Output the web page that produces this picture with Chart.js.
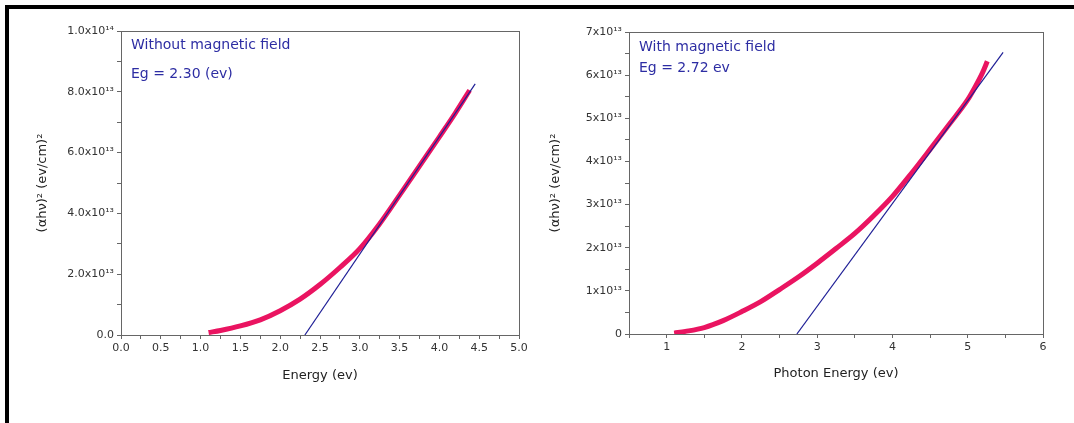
<!DOCTYPE html>
<html>
<head>
<meta charset="utf-8">
<script src="https://cdn.jsdelivr.net/npm/chart.js@4.4.1/dist/chart.umd.min.js"></script>
<style>
  html, body { margin: 0; padding: 0; background: #fff; }
  #page { position: relative; width: 1074px; height: 423px; overflow: hidden; }
  #frame { position: absolute; left: 5px; top: 5px; right: -10px; bottom: -10px; border-top: 4px solid #000; border-left: 4px solid #000; }
  #leftBox { position: absolute; left: 9px; top: 8px; width: 531px; height: 415px; }
  #rightBox { position: absolute; left: 540px; top: 8px; width: 534px; height: 415px; }
</style>
</head>
<body>
<div id="page">
  <div id="frame"></div>
  <div id="leftBox"><canvas id="leftChart"></canvas></div>
  <div id="rightBox"><canvas id="rightChart"></canvas></div>
</div>
<script>
// values of (ahv)^2 are given in units of 1e13
const leftEnergy = [1.1, 1.25, 1.5, 1.75, 2.0, 2.25, 2.5, 2.75, 3.0, 3.25, 3.5, 3.75, 4.0, 4.2, 4.38];
const leftAbs = [0.08, 0.15, 0.3, 0.5, 0.8, 1.18, 1.66, 2.22, 2.84, 3.66, 4.6, 5.56, 6.52, 7.3, 8.05];
const leftFitEnergy = [2.31, 4.45];
const leftFitAbs = [0, 8.26];

const rightEnergy = [1.1, 1.25, 1.5, 1.75, 2.0, 2.25, 2.5, 2.75, 3.0, 3.25, 3.5, 3.75, 4.0, 4.25, 4.5, 4.75, 5.0, 5.1, 5.2, 5.26];
const rightAbs = [0.02, 0.06, 0.15, 0.31, 0.52, 0.75, 1.03, 1.32, 1.64, 1.98, 2.33, 2.74, 3.19, 3.72, 4.28, 4.85, 5.43, 5.73, 6.07, 6.32];
const rightFitEnergy = [2.73, 5.47];
const rightFitAbs = [0, 6.53];

const leftXTicks = [0, 0.5, 1, 1.5, 2, 2.5, 3, 3.5, 4, 4.5, 5];
const leftXTickLabels = ['0.0', '0.5', '1.0', '1.5', '2.0', '2.5', '3.0', '3.5', '4.0', '4.5', '5.0'];
const leftYTicks = [0, 2, 4, 6, 8, 10];
const leftYTickLabels = ['0.0', '2.0x10¹³', '4.0x10¹³', '6.0x10¹³', '8.0x10¹³', '1.0x10¹⁴'];

const rightXTicks = [1, 2, 3, 4, 5, 6];
const rightXTickLabels = ['1', '2', '3', '4', '5', '6'];
const rightYTicks = [0, 1, 2, 3, 4, 5, 6, 7];
const rightYTickLabels = ['0', '1x10¹³', '2x10¹³', '3x10¹³', '4x10¹³', '5x10¹³', '6x10¹³', '7x10¹³'];

const curveColor = '#ea1461';
const fitColor = '#1f1f96';
const noteColor = '#2d2da3';
const axisColor = '#666';
const fontFamily = '"DejaVu Sans", Arial, sans-serif';

function labelFor(ticks, labels) {
  return function(value) {
    const i = ticks.findIndex(t => Math.abs(t - value) < 1e-9);
    return i >= 0 ? labels[i] : '';
  };
}

function toPoints(xs, ys) {
  return xs.map((x, i) => ({ x: x, y: ys[i] }));
}

// frame around the plot area plus the two text notes
const frameAndNotes = {
  id: 'frameAndNotes',
  afterDraw(chart, args, opts) {
    const { ctx, chartArea } = chart;
    ctx.save();
    ctx.strokeStyle = axisColor;
    ctx.lineWidth = 1;
    ctx.strokeRect(chartArea.left + 0.5, chartArea.top + 0.5, chartArea.width, chartArea.height);
    ctx.fillStyle = noteColor;
    ctx.font = `14px ${fontFamily}`;
    ctx.textBaseline = 'middle';
    opts.lines.forEach((line, i) => {
      ctx.fillText(line, chartArea.left + opts.dx, chartArea.top + opts.dy + i * opts.gap);
    });
    ctx.restore();
  }
};

function makeChart(id, cfg) {
  const ctx = document.getElementById(id);
  return new Chart(ctx, {
    type: 'scatter',
    data: {
      datasets: [
        {
          label: 'data',
          data: toPoints(cfg.energy, cfg.abs),
          showLine: true,
          borderColor: curveColor,
          borderWidth: 5,
          pointRadius: 0,
          cubicInterpolationMode: 'monotone',
          borderCapStyle: 'butt',
          order: 2
        },
        {
          label: 'fit',
          data: toPoints(cfg.fitEnergy, cfg.fitAbs),
          showLine: true,
          borderColor: fitColor,
          borderWidth: 1.2,
          pointRadius: 0,
          order: 1
        }
      ]
    },
    options: {
      responsive: true,
      maintainAspectRatio: false,
      animation: false,
      layout: { padding: cfg.padding },
      plugins: {
        legend: { display: false },
        tooltip: { enabled: false },
        frameAndNotes: { lines: cfg.notes, dx: 10, dy: cfg.noteTop, gap: cfg.noteGap }
      },
      scales: {
        x: {
          type: 'linear',
          min: cfg.xMin,
          max: cfg.xMax,
          afterFit: s => { s.height = cfg.xAxisHeight; },
          afterBuildTicks: s => { s.ticks = cfg.xSteps.map(v => ({ value: v })); },
          border: { display: false },
          grid: { drawOnChartArea: false, drawTicks: true, tickLength: 4, tickColor: axisColor, lineWidth: 1 },
          ticks: {
            autoSkip: false,
            maxRotation: 0,
            padding: 3,
            color: '#333',
            font: { family: fontFamily, size: 11 },
            callback: labelFor(cfg.xTicks, cfg.xLabels)
          },
          title: {
            display: true,
            text: cfg.xTitle,
            color: '#222',
            font: { family: fontFamily, size: 13 }
          }
        },
        y: {
          type: 'linear',
          min: cfg.yMin,
          max: cfg.yMax,
          afterFit: s => { s.width = cfg.yAxisWidth; },
          afterBuildTicks: s => { s.ticks = cfg.ySteps.map(v => ({ value: v })); },
          border: { display: false },
          grid: { drawOnChartArea: false, drawTicks: true, tickLength: 4, tickColor: axisColor, lineWidth: 1 },
          ticks: {
            autoSkip: false,
            padding: 3,
            color: '#333',
            font: { family: fontFamily, size: 11 },
            callback: labelFor(cfg.yTicks, cfg.yLabels)
          },
          title: {
            display: true,
            text: '(αhν)² (ev/cm)²',
            color: '#222',
            font: { family: fontFamily, size: 13 }
          }
        }
      }
    },
    plugins: [frameAndNotes]
  });
}

makeChart('leftChart', {
  energy: leftEnergy, abs: leftAbs,
  fitEnergy: leftFitEnergy, fitAbs: leftFitAbs,
  xMin: 0, xMax: 5, yMin: 0, yMax: 10,
  xSteps: [0, 0.25, 0.5, 0.75, 1, 1.25, 1.5, 1.75, 2, 2.25, 2.5, 2.75, 3, 3.25, 3.5, 3.75, 4, 4.25, 4.5, 4.75, 5],
  ySteps: [0, 1, 2, 3, 4, 5, 6, 7, 8, 9, 10],
  xTicks: leftXTicks, xLabels: leftXTickLabels,
  yTicks: leftYTicks, yLabels: leftYTickLabels,
  xTitle: 'Energy (ev)',
  padding: { left: 22, top: 23, right: 21, bottom: 36 },
  yAxisWidth: 90, xAxisHeight: 52,
  notes: ['Without magnetic field', 'Eg = 2.30 (ev)'], noteTop: 14, noteGap: 29
});

makeChart('rightChart', {
  energy: rightEnergy, abs: rightAbs,
  fitEnergy: rightFitEnergy, fitAbs: rightFitAbs,
  xMin: 0.5, xMax: 6, yMin: 0, yMax: 7,
  xSteps: [0.5, 1, 1.5, 2, 2.5, 3, 3.5, 4, 4.5, 5, 5.5, 6],
  ySteps: [0, 0.5, 1, 1.5, 2, 2.5, 3, 3.5, 4, 4.5, 5, 5.5, 6, 6.5, 7],
  xTicks: rightXTicks, xLabels: rightXTickLabels,
  yTicks: rightYTicks, yLabels: rightYTickLabels,
  xTitle: 'Photon Energy (ev)',
  padding: { left: 4, top: 24, right: 31, bottom: 38 },
  yAxisWidth: 85, xAxisHeight: 51,
  notes: ['With magnetic field', 'Eg = 2.72 ev'], noteTop: 15, noteGap: 21
});
</script>
</body>
</html>
